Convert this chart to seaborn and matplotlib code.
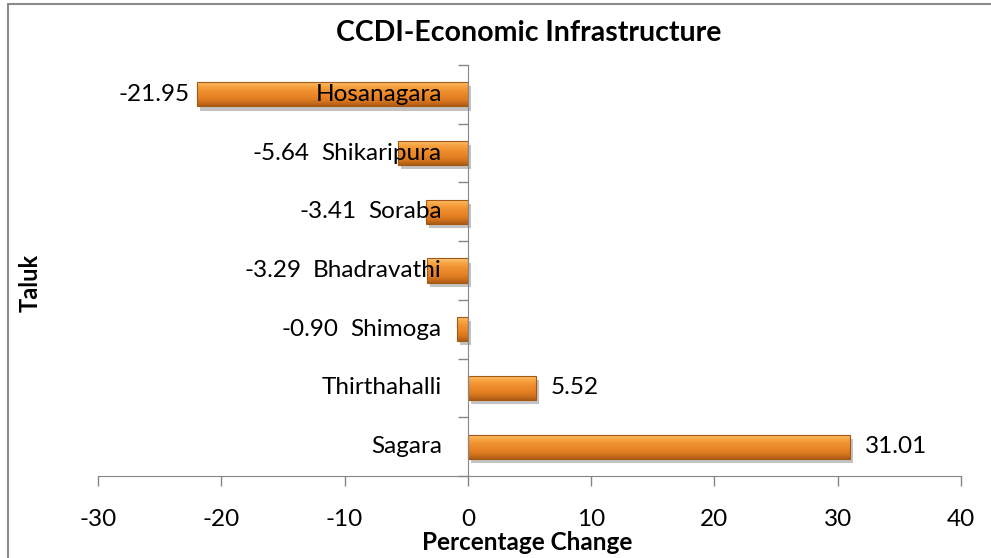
import numpy as np
import pandas as pd
import matplotlib
matplotlib.use('Agg')
import matplotlib.pyplot as plt
import seaborn as sns
import matplotlib.patheffects as pe
from matplotlib.colors import LinearSegmentedColormap
from matplotlib.lines import Line2D
from matplotlib.patches import Rectangle

# data
taluks = ['Hosanagara', 'Shikaripura', 'Soraba', 'Bhadravathi', 'Shimoga', 'Thirthahalli', 'Sagara']
change = [-21.95, -5.64, -3.41, -3.29, -0.90, 5.52, 31.01]
x_ticks = [-30, -20, -10, 0, 10, 20, 30, 40]

df = pd.DataFrame({'Taluk': taluks, 'Change': change})

sns.set_style('white')
plt.rcParams['font.family'] = ['Lato', 'DejaVu Sans']
plt.rcParams['axes.unicode_minus'] = False
plt.rcParams['text.color'] = 'black'
plt.rcParams['xtick.labelcolor'] = 'black'

W, H = 991, 558
FS = 17.5
fig = plt.figure(figsize=(W / 100, H / 100), dpi=100)
ax = fig.add_axes([98 / W, 1 - 476 / H, (961 - 98) / W, (476 - 65) / H])

sns.barplot(data=df, x='Change', y='Taluk', order=taluks, orient='h', width=0.41,
            color='#EE9035', saturation=1, errorbar=None, linewidth=0, ax=ax)

# bevel-like vertical gradient inside each bar
grad = LinearSegmentedColormap.from_list('bevel', ['#FCC977', '#F7A443', '#EF902F', '#E98526', '#D8761E', '#AE5C16'])
g = np.linspace(0, 1, 64).reshape(-1, 1)
for p in list(ax.patches):
    x0, y0, w, h = p.get_x(), p.get_y(), p.get_width(), p.get_height()
    p.set_zorder(1)
    p.set_path_effects([pe.SimplePatchShadow(offset=(2, -3), shadow_rgbFace='#555555', alpha=0.35), pe.Normal()])
    im = ax.imshow(g, cmap=grad, aspect='auto', extent=(x0, x0 + w, y0 + h, y0), zorder=1.5)
    im.set_clip_path(p)
    ax.add_patch(Rectangle((x0, y0), w, h, fill=False, edgecolor='#A35814', lw=0.8, zorder=2))

ax.set_xlim(-30, 40)
ax.set_ylim(6.5, -0.5)
ax.set_xticks(x_ticks)
ax.set_xlabel('')
ax.set_ylabel('')

axis_col = '#868686'
for s in ['top', 'right']:
    ax.spines[s].set_visible(False)
ax.spines['left'].set_position(('data', 0))
ax.spines['left'].set_color(axis_col)
ax.spines['bottom'].set_color(axis_col)
ax.spines['left'].set_zorder(4)

ax.tick_params(axis='x', bottom=True, length=7, width=1, color=axis_col, direction='out', labelsize=FS, pad=17)
ax.tick_params(axis='y', which='major', left=False, labelleft=False)
ax.set_yticks(np.arange(-0.5, 7, 1), minor=True)
ax.tick_params(axis='y', which='minor', left=True, length=7, width=1, color=axis_col, direction='out')

# category names sit on top of the bars, just left of the zero line
inv = ax.transData.inverted()
cat_texts = []
for i, name in enumerate(taluks):
    t = ax.annotate(name, xy=(0, i), xytext=(-26, 0), textcoords='offset pixels',
                    ha='right', va='center', fontsize=FS, zorder=10)
    cat_texts.append(t)

fig.text(529 / W, 1 - 33 / H, 'CCDI-Economic Infrastructure', ha='center', va='center', fontsize=20.5, fontweight='bold')
fig.text(30 / W, 1 - 283 / H, 'Taluk', ha='center', va='center', rotation=90, fontsize=17, fontweight='bold')
fig.text(527 / W, 1 - 550 / H, 'Percentage Change', ha='center', va='baseline', fontsize=17.5, fontweight='bold')

# outer chart frame
fig.add_artist(Line2D([8 / W, 8 / W], [0, 1 - 4 / H], transform=fig.transFigure, color='#8C8C8C', lw=1.5))
fig.add_artist(Line2D([8 / W, 1], [1 - 4 / H, 1 - 4 / H], transform=fig.transFigure, color='#8C8C8C', lw=1.5))

# value labels, pushed left of the category name when they would collide
fig.canvas.draw()
renderer = fig.canvas.get_renderer()
for i, v in enumerate(change):
    bx, by = ax.transData.transform((v, i))
    if v >= 0:
        xd, _ = inv.transform((bx + 15, by))
        ax.text(xd, i, f'{v:.2f}', ha='left', va='center', fontsize=FS, zorder=10)
    else:
        lab_left = cat_texts[i].get_window_extent(renderer).x0
        right = min(bx - 8, lab_left - 12)
        xd, _ = inv.transform((right, by))
        ax.text(xd, i, f'{v:.2f}', ha='right', va='center', fontsize=FS, zorder=10)

fig.savefig('out.png', dpi=100)
